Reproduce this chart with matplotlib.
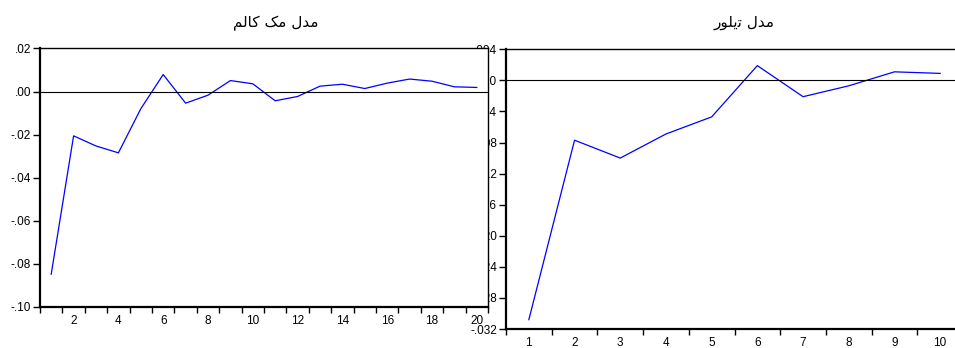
import numpy as np
import matplotlib
matplotlib.use("Agg")
import matplotlib.pyplot as plt
from matplotlib.ticker import FuncFormatter, FixedLocator

# impulse responses
periods_mc = list(range(1, 21))
resp_mc = [-0.0849, -0.0206, -0.0253, -0.0285, -0.0080, 0.0079, -0.0054, -0.0017, 0.0051, 0.0036,
           -0.0043, -0.0023, 0.0025, 0.0034, 0.0014, 0.0039, 0.0058, 0.0048, 0.0022, 0.0019]

periods_tay = list(range(1, 11))
resp_tay = [-0.0308, -0.0077, -0.0100, -0.0069, -0.0047, 0.0019, -0.0021, -0.0007, 0.0011, 0.0009]

# titles: "مدل مک کالم" and "مدل تیلور", written as shaped presentation forms in visual order
# because matplotlib has no arabic shaping / right-to-left layout
title_mc = "\uFEE2\uFEDF\uFE8E\uFB90 \uFB8F\uFEE3 \uFEDD\uFEAA\uFEE3"
title_tay = "\uFEAD\uFEEE\uFEE0\uFBFE\uFE97 \uFEDD\uFEAA\uFEE3"

W, H = 955, 348
fig = plt.figure(figsize=(W / 100, H / 100), dpi=100)
plt.rcParams['font.family'] = ['Liberation Sans', 'DejaVu Sans']
LS = 8.5


def fmt(decimals):
    def f(v, pos):
        v = round(v, decimals) + 0.0
        return f"{v:.{decimals}f}".replace("0.", ".", 1)
    return FuncFormatter(f)


def style(ax, n, labels, yticks, decimals):
    ax.set_xlim(0.5, n + 0.5)
    ax.xaxis.set_major_locator(FixedLocator(labels))
    ax.xaxis.set_minor_locator(FixedLocator(np.arange(0.5, n + 1, 1.0)))
    ax.tick_params(axis='x', which='major', length=0, pad=6, labelsize=LS)
    ax.tick_params(axis='x', which='minor', length=4, width=1, direction='out')
    ax.set_yticks(yticks)
    ax.yaxis.set_major_formatter(fmt(decimals))
    ax.tick_params(axis='y', length=5, width=1, pad=1.5, labelsize=LS, direction='out')
    ax.spines['left'].set_linewidth(1.6)
    ax.spines['bottom'].set_linewidth(1.6)
    ax.spines['top'].set_linewidth(1.0)
    ax.spines['right'].set_linewidth(1.0)
    ax.axhline(0, color='black', lw=0.8)


# right panel first so the left one covers its tick labels, as in the original
ax2 = fig.add_axes([506 / W, (H - 329) / H, 457 / W, (329 - 49.3) / H])
ax2.plot(periods_tay, resp_tay, color='#0000ff', lw=0.9)
ax2.set_ylim(-0.032, 0.004)
style(ax2, 10, periods_tay, np.linspace(-0.032, 0.004, 10), 3)

ax1 = fig.add_axes([40 / W, (H - 306.7) / H, 448 / W, (306.7 - 48.5) / H])
ax1.set_zorder(2)
ax1.plot(periods_mc, resp_mc, color='#0000ff', lw=0.9)
ax1.set_ylim(-0.10, 0.02)
style(ax1, 20, list(range(2, 21, 2)), np.linspace(-0.10, 0.02, 7), 2)

fig.text(276 / W, 1 - 23 / H, title_mc, ha='center', va='center', fontsize=11, family='DejaVu Sans')
fig.text(744 / W, 1 - 23 / H, title_tay, ha='center', va='center', fontsize=11, family='DejaVu Sans')

fig.savefig("out.png", dpi=100)
